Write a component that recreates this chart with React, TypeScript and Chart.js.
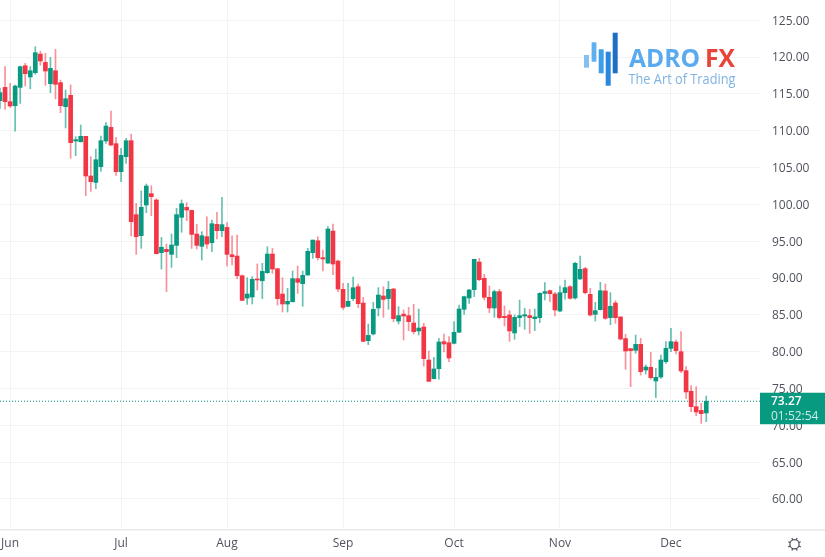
import React, { useEffect, useRef } from "react";
import { Chart, registerables } from "chart.js";

Chart.register(...registerables);

const opens = [114.07,115.88,113.94,113.39,115.88,118.82,117.29,117.87,120.4,119.27,116.38,118.14,116.52,113.26,114.8,108.6,108.5,109.23,103.85,102.98,105.11,108.6,110.45,108.24,104.43,106.47,108.64,98.6,95.75,99.91,101.45,100.59,93.44,93.89,93.21,94.43,98.24,99.59,99.18,95.97,94.3,95.61,94.79,97.28,96.42,96.87,93.16,92.98,90.31,87.28,87.42,89.86,89.63,90.72,93.25,91.26,87.82,86.47,86.78,89.91,89.23,90.4,93.44,95.06,92.76,92.03,96.38,92.3,88.46,86.15,87.19,88.82,86.6,81.49,82.4,85.93,87.56,87.2,88.51,84.16,85.1,84.89,83.89,82.81,83.35,78.87,76.34,77.69,81.36,81.22,81.13,82.63,85.75,87.29,88.42,92.17,89.96,87.38,85.93,88.15,84.8,84.98,82.54,84.62,84.84,84.89,84.48,84.62,87.92,88.28,87.83,85.52,88.01,88.82,87.29,89.87,91.27,87.78,85.07,85.7,88.24,84.62,86.61,84.71,81.77,80.41,80.18,80.99,77.51,77.87,76.02,76.56,78.64,80.45,81.31,80,77.42,74.62,72.53,72.03,71.68];
const closes = [115.16,113.94,113.35,116.06,118.69,117.74,118.14,120.59,119.46,118.1,118.46,116.29,113.39,114.34,108.37,108.78,109.23,103.85,103.08,106.06,108.64,110.63,108.05,104.43,106.65,108.64,97.65,95.61,99.59,102.49,101.04,93.3,94.17,93.57,94.48,98.6,100.09,99.23,95.92,94.43,95.74,94.61,97.37,96.42,97.24,93.21,92.89,90.31,86.96,87.82,89.82,89.73,90.9,93.25,91.22,87.19,86.47,86.83,89.91,89.41,90.36,93.62,95.15,92.76,92.58,96.65,91.9,88.5,86.01,86.83,88.68,86.51,81.4,82.21,85.75,87.69,87.1,88.46,84.48,84.89,84.84,84.07,82.72,83.21,79.05,75.97,77.65,81.31,81.04,79.14,82.63,85.79,87.47,88.37,92.54,89.77,87.38,85.93,88.15,84.62,84.62,82.81,84.66,84.89,85.02,84.62,84.71,87.92,88.15,87.87,85.66,88.01,88.69,87.24,91.99,91.18,88.01,84.98,85.57,88.28,84.53,86.16,84.62,81.72,80.09,80.14,80.99,77.29,77.92,76.47,76.52,78.87,80.45,81.36,80.14,77.38,74.53,72.53,71.81,71.58,73.27];
const highs = [115.75,118.69,116.43,116.2,118.78,119.14,118.69,121.4,120.8,120.5,119.95,121.04,116.88,115.52,116.2,109.19,110.77,109.23,106.47,107.51,109.27,111.09,112.67,109.09,107.6,108.96,109.55,100.14,101.81,102.76,102.53,100.77,95.52,94.61,95.97,99.46,100.59,100.23,99.23,97.28,96.29,98.32,97.87,98.91,100.95,97.51,95.74,95.83,90.4,90.04,90.18,91.9,91.99,94.25,94.02,91.31,90.04,88.59,90.95,91.63,90.95,94.02,95.15,95.61,93.8,96.97,97.33,92.44,89.27,89.27,90.13,89.18,87.37,83.75,86.7,88.69,88.82,89.55,88.6,86.11,85.66,86.02,86.43,85.79,83.85,80.09,79.23,81.81,82.4,82.04,84.07,86.34,87.56,88.46,92.54,92.67,90.5,88.92,88.37,88.46,86.2,85.57,84.98,87.01,85.88,85.75,85.79,88.01,89.37,88.37,88.06,88.92,89.73,88.96,92.13,92.99,91.45,88.6,86.7,89.41,89.19,88.01,86.92,84.75,82.35,80.41,82.26,81.81,78.19,79.91,77.74,79.55,81.36,83.17,81.58,82.72,77.97,75.39,75.25,72.99,73.98];
const lows = [113.03,112.9,113.17,109.95,113.71,116.06,115.7,117.65,118.9,116.15,115.16,114.3,112.44,110.36,106.24,106.6,108.46,101.17,101.77,102.13,104.48,108.28,107.96,103.93,103.08,105.57,95.7,93.21,94.03,98.87,98.46,93.26,91.22,88.14,91.45,92.76,96.2,97.78,94.02,93.93,92.44,94.02,93.57,95.29,95.61,91.63,91.76,89.91,86.92,86.42,86.47,88.37,87.19,90.63,90.63,86.33,85.38,85.38,86.74,87.91,86.15,90.4,92.67,92.44,90.95,91.99,90.45,88.14,85.74,86.1,86.92,85.97,81.35,80.95,82.26,84.84,84.66,85.75,84.07,83.76,81.58,82.85,82.4,82.26,78.05,75.97,76.29,76.25,79.96,78.64,81.04,82.63,85.07,86.56,87.47,89.64,87.01,85.3,84.66,84.44,83.49,81.4,81.67,83.4,83.03,82.49,82.85,83.94,87.01,86.79,84.84,85.43,87.11,87.11,87.11,89.82,87.83,84.84,84.16,85.66,84.39,83.67,83.85,81.58,77.6,75.25,79.77,76.83,76.97,76.25,73.76,76.38,78.42,80,79.68,77.15,73.62,71.86,71.31,70.27,70.5];

const priceTicks = [60,65,70,75,80,85,90,95,100,105,110,115,120,125];
const monthTickIndex = [2,24,45,68,90,111,133];
const monthLabels = ["Jun","Jul","Aug","Sep","Oct","Nov","Dec"];
const lastPrice = 73.27;
const countdown = "01:52:54";
const brandLeft = "ADRO";
const brandRight = "FX";
const brandTagline = "The Art of Trading";

const UP = "#089981";
const DOWN = "#f23645";
const UP_WICK = "rgba(8,153,129,0.62)";
const DOWN_WICK = "rgba(242,54,69,0.55)";
const GRID = "#f3f3f4";
const TEXT = "#50535e";
const FONT = '"Open Sans", sans-serif';
const X_MAX = 150.65;

const overlay = {
  id: "overlay",
  afterDraw(chart: any) {
    const { ctx, scales } = chart;
    const y = scales.y.getPixelForValue(lastPrice);
    ctx.save();
    // axis line under the price scale
    ctx.strokeStyle = "#e9e9eb";
    ctx.lineWidth = 1.5;
    ctx.beginPath();
    ctx.moveTo(761, 530);
    ctx.lineTo(825, 530);
    ctx.stroke();
    // last price box
    ctx.fillStyle = UP;
    ctx.fillRect(760, y - 8.5, 65, 31.5);
    ctx.textAlign = "left";
    ctx.textBaseline = "middle";
    ctx.font = `600 12px ${FONT}`;
    ctx.fillStyle = "#ffffff";
    ctx.fillText(lastPrice.toFixed(2), 771, y + 0.5);
    ctx.font = `12px ${FONT}`;
    ctx.fillStyle = "rgba(255,255,255,0.8)";
    ctx.fillText(countdown, 771, y + 15.5);
    // logo bars
    const bars: [number, number, number, number, string][] = [
      [584, 55, 5, 12.7, "#84c0f0"],
      [591.6, 42.3, 4.8, 19.4, "#5fb0f0"],
      [598.7, 49.3, 5, 24, "#3f9eea"],
      [605.7, 51.7, 5, 34, "#2a87e0"],
      [612.7, 32.7, 5, 40.6, "#1f6fc2"],
    ];
    bars.forEach(([bx, by, bw, bh, c]) => {
      ctx.fillStyle = c;
      ctx.fillRect(bx, by, bw, bh);
    });
    ctx.textBaseline = "alphabetic";
    ctx.font = `700 25px ${FONT}`;
    ctx.fillStyle = "#5aaaf0";
    ctx.fillText(brandLeft, 629, 66.7, 71);
    ctx.fillStyle = "#e8443a";
    ctx.fillText(brandRight, 705, 66.7, 30);
    ctx.font = `14px ${FONT}`;
    ctx.fillStyle = "#7fb3e3";
    ctx.fillText(brandTagline, 628.5, 83.5, 107);
    // settings gear
    const gx = 794.5, gy = 544.3;
    ctx.strokeStyle = TEXT;
    ctx.lineWidth = 1.2;
    ctx.beginPath();
    ctx.arc(gx, gy, 4.6, 0, Math.PI * 2);
    ctx.stroke();
    for (let k = 0; k < 8; k++) {
      const a = (k * Math.PI) / 4 + Math.PI / 8;
      ctx.beginPath();
      ctx.moveTo(gx + Math.cos(a) * 4.6, gy + Math.sin(a) * 4.6);
      ctx.lineTo(gx + Math.cos(a) * 6.8, gy + Math.sin(a) * 6.8);
      ctx.stroke();
    }
    ctx.restore();
  },
};

export default function App() {
  const ref = useRef<HTMLCanvasElement>(null);
  useEffect(() => {
    const chart = new Chart(ref.current!, {
      type: "bar",
      data: {
        datasets: [
          {
            type: "line",
            data: [{ x: 0, y: lastPrice }, { x: X_MAX, y: lastPrice }],
            borderColor: UP,
            borderWidth: 1,
            borderDash: [1, 2],
            pointRadius: 0,
            order: 3,
          },
          {
            data: opens.map((_, i) => ({ x: i, y: [lows[i], highs[i]] })),
            backgroundColor: opens.map((o, i) => (closes[i] >= o ? UP_WICK : DOWN_WICK)),
            barThickness: 1,
            grouped: false,
            order: 2,
          },
          {
            data: opens.map((o, i) => ({ x: i, y: [o, closes[i]] })),
            backgroundColor: opens.map((o, i) => (closes[i] >= o ? UP : DOWN)),
            barThickness: 4,
            minBarLength: 1,
            grouped: false,
            order: 1,
          },
        ] as any,
      },
      options: {
        responsive: false,
        animation: false,
        layout: { padding: 0 },
        plugins: { legend: { display: false }, tooltip: { enabled: false } },
        scales: {
          x: {
            type: "linear",
            offset: false,
            min: 0,
            max: X_MAX,
            afterBuildTicks: (s: any) => {
              s.ticks = monthTickIndex.map((value) => ({ value }));
            },
            afterFit: (s: any) => {
              s.height = 27;
              s.paddingLeft = 0;
              s.paddingRight = 0;
            },
            grid: { color: GRID, lineWidth: 1, drawTicks: false, offset: false },
            border: { color: "#e9e9eb", width: 1.5 },
            ticks: {
              autoSkip: false,
              maxRotation: 0,
              padding: 6,
              color: TEXT,
              font: { family: FONT, size: 12 },
              callback: (v: any) => monthLabels[monthTickIndex.indexOf(v)] ?? "",
            },
          },
          y: {
            type: "linear",
            position: "right",
            min: 55.79,
            max: 127.74,
            afterBuildTicks: (s: any) => {
              s.ticks = priceTicks.map((value) => ({ value }));
            },
            afterFit: (s: any) => {
              s.width = 65;
              s.paddingTop = 0;
              s.paddingBottom = 0;
            },
            grid: { color: GRID, lineWidth: 1, drawTicks: false },
            border: { display: false },
            ticks: {
              padding: 12,
              labelOffset: 1,
              color: TEXT,
              font: { family: FONT, size: 12 },
              callback: (v: any) => Number(v).toFixed(2),
            },
          },
        },
      } as any,
      plugins: [overlay],
    });
    return () => chart.destroy();
  }, []);
  return (
    <div style={{ position: "absolute", left: 0, top: 0, width: 825, height: 557, background: "#ffffff", overflow: "hidden" }}>
      <canvas ref={ref} width={825} height={557} style={{ display: "block" }} />
    </div>
  );
}
